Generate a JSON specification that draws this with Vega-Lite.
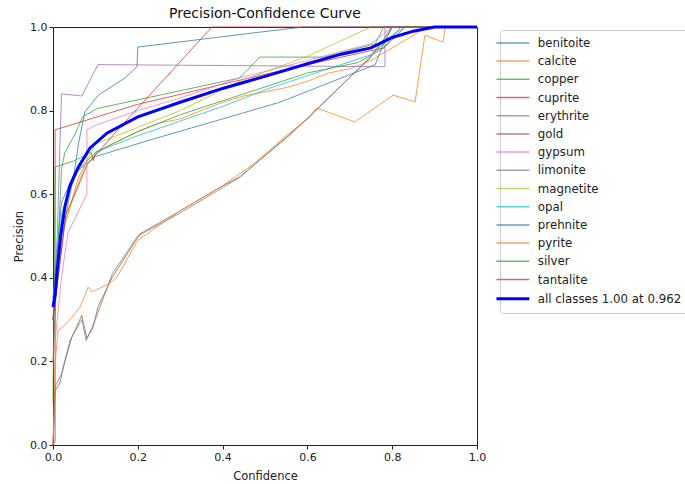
{
  "$schema": "https://vega.github.io/schema/vega-lite/v6.json",
  "autosize": "none",
  "width": 424,
  "height": 418,
  "padding": {"left": 53, "top": 27, "right": 208, "bottom": 39},
  "title": {"text": "Precision-Confidence Curve", "fontSize": 14, "fontWeight": "normal", "color": "#111", "offset": 0, "font": "DejaVu Sans"},
  "datasets": {
    "curves": [
      {"k":"benitoite","c":0,"p":0.35},{"k":"benitoite","c":0.02,"p":0.58},{"k":"benitoite","c":0.05,"p":0.65},{"k":"benitoite","c":0.1,"p":0.69},{"k":"benitoite","c":0.23,"p":0.73},{"k":"benitoite","c":0.535,"p":0.82},{"k":"benitoite","c":0.76,"p":0.91},{"k":"benitoite","c":0.78,"p":0.96},{"k":"benitoite","c":0.8,"p":1},{"k":"benitoite","c":1,"p":1},
      {"k":"calcite","c":0,"p":0.3},{"k":"calcite","c":0.02,"p":0.5},{"k":"calcite","c":0.04,"p":0.57},{"k":"calcite","c":0.06,"p":0.64},{"k":"calcite","c":0.08,"p":0.68},{"k":"calcite","c":0.12,"p":0.71},{"k":"calcite","c":0.2,"p":0.75},{"k":"calcite","c":0.25,"p":0.77},{"k":"calcite","c":0.3,"p":0.78},{"k":"calcite","c":0.35,"p":0.8},{"k":"calcite","c":0.4,"p":0.82},{"k":"calcite","c":0.45,"p":0.835},{"k":"calcite","c":0.5,"p":0.845},{"k":"calcite","c":0.55,"p":0.855},{"k":"calcite","c":0.6,"p":0.87},{"k":"calcite","c":0.65,"p":0.89},{"k":"calcite","c":0.7,"p":0.9},{"k":"calcite","c":0.75,"p":0.92},{"k":"calcite","c":0.8,"p":0.95},{"k":"calcite","c":0.85,"p":0.98},{"k":"calcite","c":0.88,"p":1},{"k":"calcite","c":1,"p":1},
      {"k":"copper","c":0,"p":0.2},{"k":"copper","c":0.02,"p":0.66},{"k":"copper","c":0.028,"p":0.7},{"k":"copper","c":0.05,"p":0.74},{"k":"copper","c":0.07,"p":0.785},{"k":"copper","c":0.104,"p":0.805},{"k":"copper","c":0.229,"p":0.832},{"k":"copper","c":0.44,"p":0.878},{"k":"copper","c":0.488,"p":0.928},{"k":"copper","c":0.64,"p":0.928},{"k":"copper","c":0.76,"p":0.96},{"k":"copper","c":0.78,"p":1},{"k":"copper","c":1,"p":1},
      {"k":"cuprite","c":0,"p":0},{"k":"cuprite","c":0.005,"p":0.01},{"k":"cuprite","c":0.005,"p":0.754},{"k":"cuprite","c":0.2,"p":0.815},{"k":"cuprite","c":0.45,"p":0.875},{"k":"cuprite","c":0.6,"p":0.91},{"k":"cuprite","c":0.78,"p":0.95},{"k":"cuprite","c":0.83,"p":1},{"k":"cuprite","c":1,"p":1},
      {"k":"erythrite","c":0,"p":0.3},{"k":"erythrite","c":0.01,"p":0.5},{"k":"erythrite","c":0.02,"p":0.84},{"k":"erythrite","c":0.068,"p":0.835},{"k":"erythrite","c":0.106,"p":0.91},{"k":"erythrite","c":0.783,"p":0.905},{"k":"erythrite","c":0.783,"p":1},{"k":"erythrite","c":1,"p":1},
      {"k":"gold","c":0,"p":0},{"k":"gold","c":0.005,"p":0.13},{"k":"gold","c":0.016,"p":0.148},{"k":"gold","c":0.028,"p":0.2},{"k":"gold","c":0.045,"p":0.26},{"k":"gold","c":0.068,"p":0.31},{"k":"gold","c":0.08,"p":0.255},{"k":"gold","c":0.094,"p":0.28},{"k":"gold","c":0.106,"p":0.33},{"k":"gold","c":0.139,"p":0.4},{"k":"gold","c":0.205,"p":0.505},{"k":"gold","c":0.3,"p":0.56},{"k":"gold","c":0.4,"p":0.62},{"k":"gold","c":0.44,"p":0.641},{"k":"gold","c":0.559,"p":0.742},{"k":"gold","c":0.748,"p":0.926},{"k":"gold","c":0.8,"p":1},{"k":"gold","c":1,"p":1},
      {"k":"gypsum","c":0,"p":0.2},{"k":"gypsum","c":0.02,"p":0.4},{"k":"gypsum","c":0.035,"p":0.507},{"k":"gypsum","c":0.08,"p":0.6},{"k":"gypsum","c":0.08,"p":0.754},{"k":"gypsum","c":0.1,"p":0.765},{"k":"gypsum","c":0.2,"p":0.8},{"k":"gypsum","c":0.3,"p":0.83},{"k":"gypsum","c":0.44,"p":0.878},{"k":"gypsum","c":0.6,"p":0.92},{"k":"gypsum","c":0.75,"p":0.96},{"k":"gypsum","c":0.8,"p":1},{"k":"gypsum","c":1,"p":1},
      {"k":"limonite","c":0,"p":0},{"k":"limonite","c":0.005,"p":0.14},{"k":"limonite","c":0.02,"p":0.17},{"k":"limonite","c":0.04,"p":0.25},{"k":"limonite","c":0.068,"p":0.3},{"k":"limonite","c":0.078,"p":0.25},{"k":"limonite","c":0.1,"p":0.3},{"k":"limonite","c":0.14,"p":0.41},{"k":"limonite","c":0.2,"p":0.5},{"k":"limonite","c":0.3,"p":0.555},{"k":"limonite","c":0.44,"p":0.64},{"k":"limonite","c":0.6,"p":0.78},{"k":"limonite","c":0.78,"p":0.96},{"k":"limonite","c":0.8,"p":1},{"k":"limonite","c":1,"p":1},
      {"k":"magnetite","c":0,"p":0.3},{"k":"magnetite","c":0.02,"p":0.5},{"k":"magnetite","c":0.05,"p":0.6},{"k":"magnetite","c":0.08,"p":0.68},{"k":"magnetite","c":0.1,"p":0.72},{"k":"magnetite","c":0.2,"p":0.76},{"k":"magnetite","c":0.3,"p":0.8},{"k":"magnetite","c":0.44,"p":0.87},{"k":"magnetite","c":0.6,"p":0.93},{"k":"magnetite","c":0.75,"p":1},{"k":"magnetite","c":1,"p":1},
      {"k":"opal","c":0,"p":0.35},{"k":"opal","c":0.02,"p":0.55},{"k":"opal","c":0.05,"p":0.65},{"k":"opal","c":0.1,"p":0.7},{"k":"opal","c":0.2,"p":0.74},{"k":"opal","c":0.4,"p":0.81},{"k":"opal","c":0.512,"p":0.854},{"k":"opal","c":0.748,"p":0.933},{"k":"opal","c":0.8,"p":0.98},{"k":"opal","c":0.83,"p":1},{"k":"opal","c":1,"p":1},
      {"k":"prehnite","c":0,"p":0.3},{"k":"prehnite","c":0.03,"p":0.55},{"k":"prehnite","c":0.05,"p":0.65},{"k":"prehnite","c":0.06,"p":0.72},{"k":"prehnite","c":0.075,"p":0.797},{"k":"prehnite","c":0.107,"p":0.837},{"k":"prehnite","c":0.17,"p":0.878},{"k":"prehnite","c":0.198,"p":0.905},{"k":"prehnite","c":0.2,"p":0.952},{"k":"prehnite","c":0.49,"p":0.988},{"k":"prehnite","c":0.59,"p":1},{"k":"prehnite","c":1,"p":1},
      {"k":"pyrite","c":0,"p":0},{"k":"pyrite","c":0.005,"p":0.196},{"k":"pyrite","c":0.012,"p":0.275},{"k":"pyrite","c":0.024,"p":0.283},{"k":"pyrite","c":0.045,"p":0.306},{"k":"pyrite","c":0.064,"p":0.33},{"k":"pyrite","c":0.083,"p":0.378},{"k":"pyrite","c":0.092,"p":0.366},{"k":"pyrite","c":0.134,"p":0.387},{"k":"pyrite","c":0.151,"p":0.402},{"k":"pyrite","c":0.2,"p":0.49},{"k":"pyrite","c":0.3,"p":0.56},{"k":"pyrite","c":0.4,"p":0.62},{"k":"pyrite","c":0.47,"p":0.67},{"k":"pyrite","c":0.55,"p":0.74},{"k":"pyrite","c":0.606,"p":0.785},{"k":"pyrite","c":0.622,"p":0.806},{"k":"pyrite","c":0.712,"p":0.773},{"k":"pyrite","c":0.802,"p":0.837},{"k":"pyrite","c":0.854,"p":0.821},{"k":"pyrite","c":0.877,"p":0.98},{"k":"pyrite","c":0.92,"p":0.964},{"k":"pyrite","c":0.925,"p":1},{"k":"pyrite","c":1,"p":1},
      {"k":"silver","c":0,"p":0.1},{"k":"silver","c":0.005,"p":0.665},{"k":"silver","c":0.05,"p":0.68},{"k":"silver","c":0.09,"p":0.7},{"k":"silver","c":0.095,"p":0.68},{"k":"silver","c":0.1,"p":0.7},{"k":"silver","c":0.2,"p":0.75},{"k":"silver","c":0.3,"p":0.79},{"k":"silver","c":0.45,"p":0.84},{"k":"silver","c":0.6,"p":0.89},{"k":"silver","c":0.72,"p":0.915},{"k":"silver","c":0.78,"p":0.95},{"k":"silver","c":0.82,"p":1},{"k":"silver","c":1,"p":1},
      {"k":"tantalite","c":0,"p":0.3},{"k":"tantalite","c":0.03,"p":0.55},{"k":"tantalite","c":0.06,"p":0.62},{"k":"tantalite","c":0.08,"p":0.67},{"k":"tantalite","c":0.153,"p":0.754},{"k":"tantalite","c":0.375,"p":1},{"k":"tantalite","c":1,"p":1}
    ],
    "all": [
      {"k":"all classes 1.00 at 0.962","c":0,"p":0.33},{"k":"all classes 1.00 at 0.962","c":0.005,"p":0.36},{"k":"all classes 1.00 at 0.962","c":0.01,"p":0.42},{"k":"all classes 1.00 at 0.962","c":0.018,"p":0.5},{"k":"all classes 1.00 at 0.962","c":0.028,"p":0.57},{"k":"all classes 1.00 at 0.962","c":0.04,"p":0.62},{"k":"all classes 1.00 at 0.962","c":0.06,"p":0.665},{"k":"all classes 1.00 at 0.962","c":0.087,"p":0.71},{"k":"all classes 1.00 at 0.962","c":0.127,"p":0.746},{"k":"all classes 1.00 at 0.962","c":0.2,"p":0.785},{"k":"all classes 1.00 at 0.962","c":0.3,"p":0.82},{"k":"all classes 1.00 at 0.962","c":0.4,"p":0.853},{"k":"all classes 1.00 at 0.962","c":0.5,"p":0.882},{"k":"all classes 1.00 at 0.962","c":0.6,"p":0.912},{"k":"all classes 1.00 at 0.962","c":0.68,"p":0.935},{"k":"all classes 1.00 at 0.962","c":0.75,"p":0.95},{"k":"all classes 1.00 at 0.962","c":0.8,"p":0.975},{"k":"all classes 1.00 at 0.962","c":0.85,"p":0.99},{"k":"all classes 1.00 at 0.962","c":0.9,"p":1},{"k":"all classes 1.00 at 0.962","c":1,"p":1}
    ]
  },
  "encoding": {
    "x": {"field": "c", "type": "quantitative", "scale": {"domain": [0, 1], "nice": false, "zero": false}, "axis": {"title": "Confidence", "values": [0, 0.2, 0.4, 0.6, 0.8, 1], "format": ".1f", "titlePadding": 8}},
    "y": {"field": "p", "type": "quantitative", "scale": {"domain": [0, 1], "nice": false, "zero": false}, "axis": {"title": "Precision", "values": [0, 0.2, 0.4, 0.6, 0.8, 1], "format": ".1f", "titlePadding": 5}},
    "color": {"field": "k", "type": "nominal", "sort": null,
      "scale": {"domain": ["benitoite","calcite","copper","cuprite","erythrite","gold","gypsum","limonite","magnetite","opal","prehnite","pyrite","silver","tantalite","all classes 1.00 at 0.962"],
                "range": ["#1f77b4","#ff7f0e","#2ca02c","#d62728","#9467bd","#8c564b","#e377c2","#7f7f7f","#bcbd22","#17becf","#1f77b4","#ff7f0e","#2ca02c","#d62728","#0000ff"]},
      "legend": {"title": null, "orient": "none", "legendX": 447, "legendY": 3,
        "labelFontSize": 11.8, "labelColor": "#222", "labelFont": "DejaVu Sans",
        "symbolType": "M-1.9,0L1.9,0", "symbolSize": 300, "symbolStrokeWidth": 1.5, "symbolOpacity": 0.8,
        "rowPadding": 5.2, "padding": 7, "strokeColor": "#ccc", "cornerRadius": 3, "fillColor": "white", "labelOffset": 19,
        "encode": {"symbols": {"update": {"strokeWidth": {"signal": "datum.value === 'all classes 1.00 at 0.962' ? 3 : 1.5"}, "opacity": {"signal": "datum.value === 'all classes 1.00 at 0.962' ? 1 : 0.7"}}}}}
    },
    "order": {"value": null}
  },
  "layer": [
    {"data": {"name": "curves"}, "mark": {"type": "line", "strokeWidth": 1, "opacity": 0.75}},
    {"data": {"name": "all"}, "mark": {"type": "line", "strokeWidth": 3, "opacity": 1}}
  ],
  "config": {
    "font": "DejaVu Sans",
    "view": {"stroke": "#222", "strokeWidth": 1},
    "axis": {"grid": false, "domain": false, "tickColor": "#222", "tickSize": 4, "labelFontSize": 11, "labelColor": "#222", "titleFontSize": 11.5, "titleFontWeight": "normal", "titleColor": "#222", "labelPadding": 2, "labelFlush": false}
  }
}
